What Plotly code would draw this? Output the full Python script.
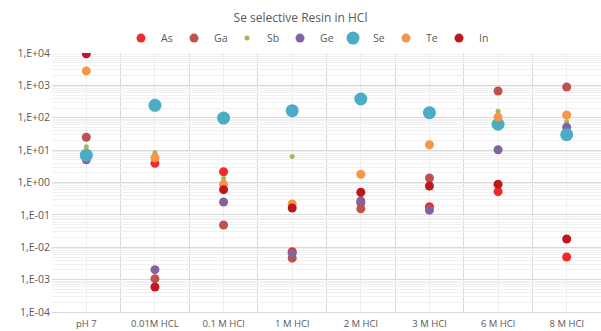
import plotly.graph_objects as go

categories = ["pH 7", "0.01M HCL", "0.1 M HCl", "1 M HCl", "2 M HCl", "3 M HCl", "6 M HCl", "8 M HCl"]

as_vals = [6.0, 3.9, 2.15, 0.0073, 0.24, 0.179, 0.52, 0.005]
ga_vals = [25, 0.00107, 0.0486, 0.0046, 0.155, 1.38, 670, 890]
sb_vals = [12.8, 8.3, 1.35, 6.4, 0.33, None, 158, 75]
ge_vals = [5.0, 0.00203, 0.25, 0.0065, 0.27, 0.14, 10.3, 51]
se_vals = [7.0, 242, 98, 165, 379, 143, 63, 30]
te_vals = [2800, 5.8, 0.88, 0.217, 1.79, 14.7, 105, 122]
in_vals = [9500, 0.00059, 0.6, 0.163, 0.5, 0.78, 0.88, 0.018]

series_names = ["As", "Ga", "Sb", "Ge", "Se", "Te", "In"]
series_vals = [as_vals, ga_vals, sb_vals, ge_vals, se_vals, te_vals, in_vals]
series_colors = ["#EE2A2A", "#C0504D", "#9BBB59", "#8064A2", "#4BACC6", "#F79646", "#C0161E"]
series_sizes = [9, 9, 5, 9, 13, 9, 9]

ytick_vals = [1e-4, 1e-3, 1e-2, 1e-1, 1, 10, 100, 1000, 10000]
ytick_text = ["1,E-04", "1,E-03", "1,E-02", "1,E-01", "1,E+00", "1,E+01", "1,E+02", "1,E+03", "1,E+04"]

xpos = list(range(1, len(categories) + 1))

fig = go.Figure()
for name, vals, col, sz in zip(series_names, series_vals, series_colors, series_sizes):
    fig.add_trace(go.Scatter(
        x=xpos, y=vals, mode="markers", name=name,
        marker=dict(color=col, size=sz, line=dict(width=0)),
    ))

font_family = "Open Sans, Liberation Sans, sans-serif"
fig.update_layout(
    width=601, height=331,
    margin=dict(l=52, r=0, t=53, b=19, autoexpand=False),
    paper_bgcolor="white", plot_bgcolor="white",
    font=dict(family=font_family, color="#595959", size=10),
    title=dict(text="Se selective Resin in HCl", x=0.5, xanchor="center",
               y=0.945, yanchor="middle",
               font=dict(family=font_family, size=12, color="#595959")),
    legend=dict(orientation="h", x=0.4636, xanchor="center", y=0.885, yanchor="middle",
                yref="container", entrywidth=8, entrywidthmode="pixels",
                font=dict(size=10.5, color="#595959"), itemsizing="trace",
                bgcolor="rgba(0,0,0,0)"),
    showlegend=True,
)

fig.update_xaxes(
    range=[0.5, len(categories) + 0.5], tickmode="array", tickvals=xpos, ticktext=categories,
    showgrid=True, gridcolor="#efefef", gridwidth=1,
    minor=dict(tick0=0.5, dtick=1, showgrid=True, gridcolor="#d9d9d9", gridwidth=1),
    showline=True, linecolor="#d9d9d9", linewidth=1, zeroline=False,
    ticks="", tickfont=dict(size=9.5, color="#595959"), ticklabelstandoff=3,
)
fig.update_yaxes(
    type="log", range=[-4, 4], tickmode="array", tickvals=ytick_vals, ticktext=ytick_text,
    showgrid=True, gridcolor="#d9d9d9", gridwidth=1,
    minor=dict(dtick="D1", showgrid=True, gridcolor="#f0f0f0", gridwidth=1),
    showline=False, zeroline=False, ticks="",
    tickfont=dict(size=10.5, color="#595959"), ticklabelstandoff=1,
)

fig.write_html("out.html", config={"displayModeBar": False},
               post_script="document.body.style.margin='0';document.body.style.padding='0';")
